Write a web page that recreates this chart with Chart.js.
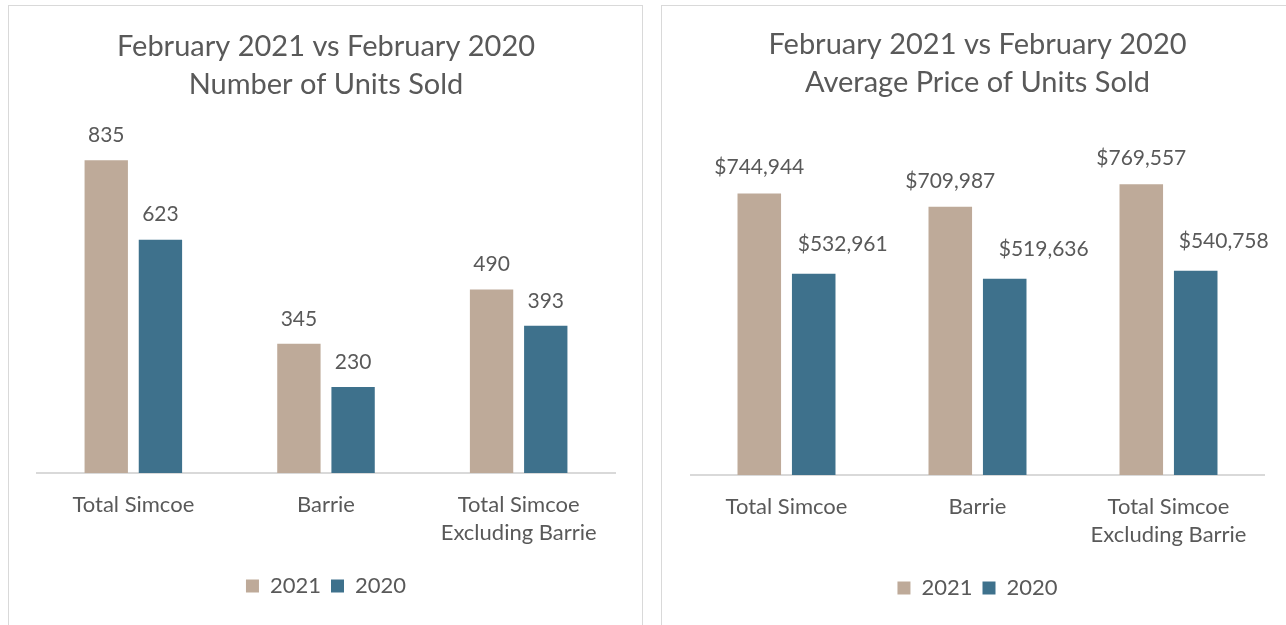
<!DOCTYPE html>
<html>
<head>
<meta charset="utf-8">
<script src="https://cdn.jsdelivr.net/npm/chart.js@4.4.0/dist/chart.umd.min.js"></script>
<style>
    html, body { margin: 0; padding: 0; background: #ffffff; overflow: hidden; }
    .panel {
        position: absolute;
        border: 1px solid #d9d9d9;
        background: #ffffff;
    }
    #panel-units { left: 8px; top: 5px; width: 633px; height: 630px; }
    #panel-price { left: 661px; top: 5px; width: 626px; height: 630px; }
    canvas { display: block; }
</style>
</head>
<body>
<div class="panel" id="panel-units"><canvas id="units-chart" width="633" height="619"></canvas></div>
<div class="panel" id="panel-price"><canvas id="price-chart" width="626" height="619"></canvas></div>

<script>
// Categories shared by both charts
const categories = ['Total Simcoe', 'Barrie', ['Total Simcoe', 'Excluding Barrie']];
const seriesNames = ['2021', '2020'];
const colors = ['#BEAA99', '#3E718C'];

// Number of units sold
const units2021 = [835, 345, 490];
const units2020 = [623, 230, 393];

// Average price of units sold
const price2021 = [744944, 709987, 769557];
const price2020 = [532961, 519636, 540758];

const FONT = 'Lato, "Open Sans", sans-serif';
const TEXT_COLOR = '#595959';

/**
 * Draws the value above each bar.
 * shifts[datasetIndex] = [dx per bar] nudges labels that were moved sideways in the original
 */
function makeValueLabels(format, shifts, lift) {
    return {
        id: 'valueLabels',
        afterDatasetsDraw(chart) {
            const ctx = chart.ctx;
            ctx.save();
            ctx.font = '21px ' + FONT;
            ctx.fillStyle = TEXT_COLOR;
            ctx.textAlign = 'center';
            ctx.textBaseline = 'middle';
            chart.data.datasets.forEach((ds, i) => {
                chart.getDatasetMeta(i).data.forEach((bar, j) => {
                    const dx = shifts ? shifts[i][j] : 0;
                    ctx.fillText(format(ds.data[j]), bar.x + dx, bar.y - lift[i]);
                });
            });
            ctx.restore();
        }
    };
}

function renderBarChart(canvasId, titleLines, data2021, data2020, yMax, format, layout) {
    const ctx = document.getElementById(canvasId).getContext('2d');
    return new Chart(ctx, {
        type: 'bar',
        data: {
            labels: categories,
            datasets: [data2021, data2020].map((values, index) => ({
                label: seriesNames[index],
                data: values,
                backgroundColor: colors[index],
                borderWidth: 0,
                barPercentage: 0.8,
                categoryPercentage: layout.catPct
            }))
        },
        options: {
            responsive: false,
            animation: false,
            layout: {
                padding: { left: layout.left, right: layout.right, top: 0, bottom: layout.bottom }
            },
            scales: {
                x: {
                    grid: { display: false, drawTicks: false },
                    border: { display: true, color: '#d9d9d9', width: 2 },
                    ticks: {
                        color: TEXT_COLOR,
                        padding: 18,
                        maxRotation: 0,
                        autoSkip: false,
                        font: { family: FONT, size: 22, lineHeight: '28px' }
                    },
                    afterFit: scale => { scale.height += layout.extra; }
                },
                y: {
                    display: false,
                    min: 0,
                    max: yMax
                }
            },
            plugins: {
                title: {
                    display: true,
                    text: titleLines,
                    color: TEXT_COLOR,
                    font: { family: FONT, size: 29, weight: 'normal', lineHeight: '38px' },
                    padding: { top: layout.titleTop, bottom: layout.titleBottom }
                },
                legend: {
                    position: 'bottom',
                    labels: {
                        color: TEXT_COLOR,
                        boxWidth: 13,
                        boxHeight: 13,
                        padding: 10,
                        font: { family: FONT, size: 22 }
                    }
                },
                tooltip: { enabled: false }
            }
        },
        plugins: [makeValueLabels(format, layout.shifts, layout.lift)]
    });
}

renderBarChart(
    'units-chart',
    ['February 2021 vs February 2020', 'Number of Units Sold'],
    units2021, units2020, 900,
    v => String(v),
    { catPct: 0.5625, left: 28, right: 27, bottom: 18, extra: 0, titleTop: 22, titleBottom: 32,
      shifts: null, lift: [25, 25] }
);

renderBarChart(
    'price-chart',
    ['February 2021 vs February 2020', 'Average Price of Units Sold'],
    price2021, price2020, 900000,
    v => '$' + v.toLocaleString('en-US'),
    { catPct: 0.57, left: 29, right: 24, bottom: 16, extra: 0, titleTop: 20, titleBottom: 33,
      shifts: [[0, 0, 0], [29, 39, 28]], lift: [26, 29] }
);
</script>
</body>
</html>
